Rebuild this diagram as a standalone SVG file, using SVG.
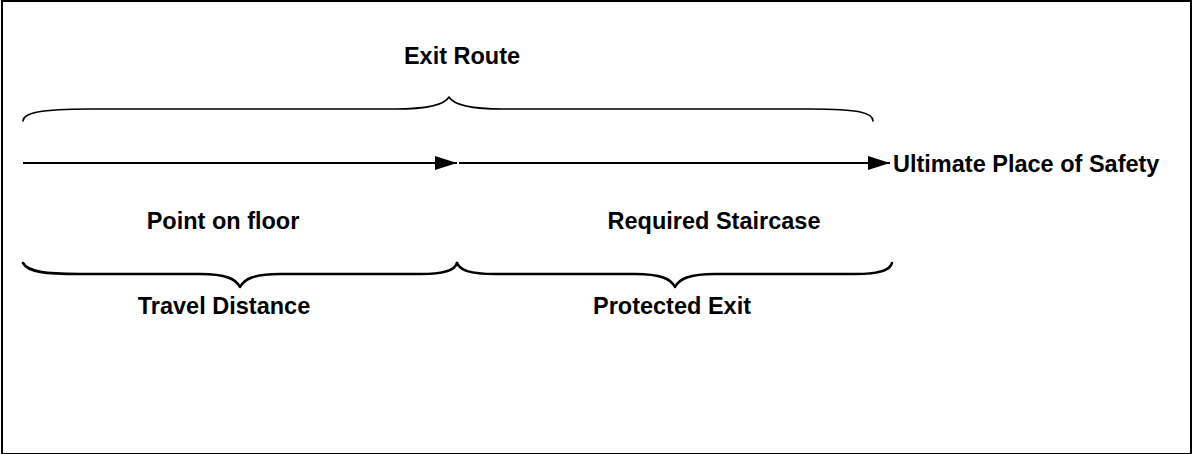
<svg xmlns="http://www.w3.org/2000/svg" width="1192" height="454" viewBox="0 0 1192 454">
<style>
text{font-family:"Liberation Sans",Arial,sans-serif;font-weight:bold;font-size:23.5px;fill:#000}
.brace{fill:none;stroke:#000;stroke-linecap:round;stroke-linejoin:round}
.thin{stroke-width:1.6}
.thick{stroke-width:2.6}
.arrow{stroke:#000;stroke-width:2;fill:none}
</style>
<defs>
<marker id="ah" viewBox="0 0 22 14" refX="22" refY="7" markerWidth="22" markerHeight="14" markerUnits="userSpaceOnUse" orient="auto">
<path d="M0,0 L22,7 L0,14 Z" fill="#000"/>
</marker>
</defs>
<rect x="2" y="1" width="1189" height="453" fill="#fff" stroke="#000" stroke-width="2"/>
<g id="exit-route">
<path class="brace thin" d="M23,121 C23,113 40,109 90,109 L395,109 C432,109 445,104 449,97 C453,104 466,109 503,109 L810,109 C860,109 873,113 873,121"/>
<text x="462" y="64" text-anchor="middle">Exit Route</text>
</g>
<g id="point-on-floor"><text x="223" y="229" text-anchor="middle">Point on floor</text></g>
<g id="required-staircase"><text x="714" y="229" text-anchor="middle">Required Staircase</text></g>
<g id="ultimate-place"><text x="893" y="172">Ultimate Place of Safety</text></g>
<g id="travel-distance">
<path class="brace thick" d="M23,263 C28,272 45,274 80,274 L200,274 C226,274 236,279 240,287 C244,279 254,274 280,274 L420,274 C446,274 455,270 457,263"/>
<text x="224" y="314" text-anchor="middle">Travel Distance</text>
</g>
<g id="protected-exit">
<path class="brace thick" d="M457,263 C460,270 469,274 495,274 L635,274 C661,274 671,279 675,287 C679,279 689,274 715,274 L855,274 C881,274 890,270 892,263"/>
<text x="672" y="314" text-anchor="middle">Protected Exit</text>
</g>
<g id="connectors">
<line class="arrow" x1="23" y1="163" x2="457" y2="163" marker-end="url(#ah)"/>
<line class="arrow" x1="459" y1="163" x2="890" y2="163" marker-end="url(#ah)"/>
</g>
</svg>
